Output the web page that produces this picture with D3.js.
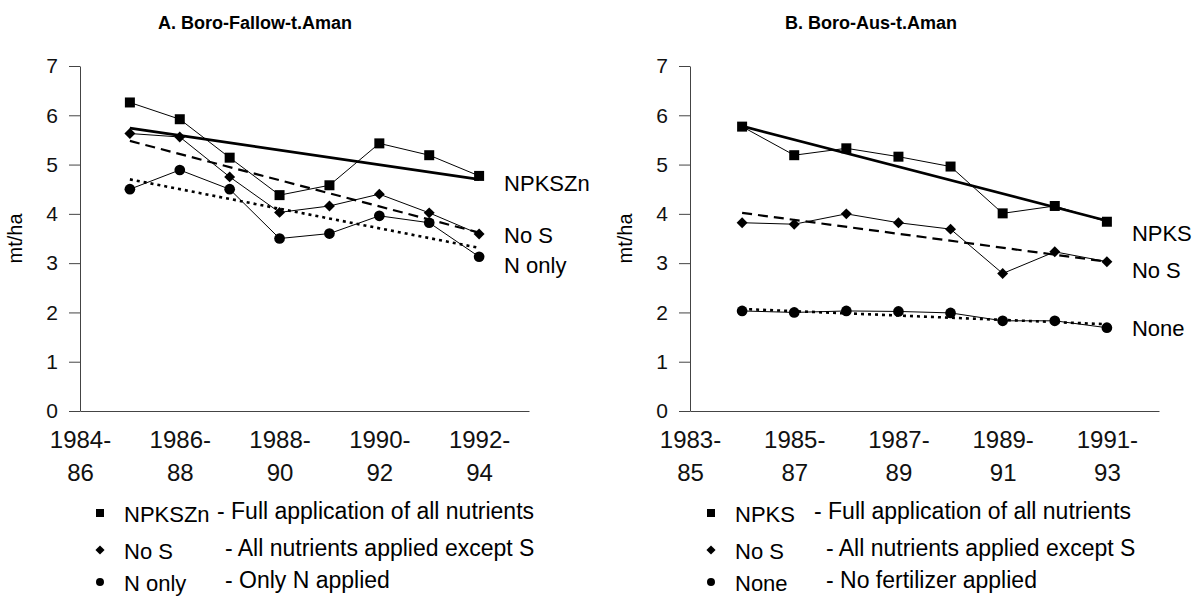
<!DOCTYPE html>
<html>
<head>
<meta charset="utf-8">
<script src="https://cdn.jsdelivr.net/npm/d3@7"></script>
<style>
  body { margin: 0; background: #fff; }
  svg { display: block; font-family: "Liberation Sans", Arial, sans-serif; }
</style>
</head>
<body>
<svg id="chart"></svg>
<script>
// ---- data: panel A (Boro-Fallow-t.Aman) ----
const yearsA = [1985, 1986, 1987, 1988, 1989, 1990, 1991, 1992];
const tickYearsA = [1984, 1986, 1988, 1990, 1992];
const tickLabelsA = [["1984-", "86"], ["1986-", "88"], ["1988-", "90"], ["1990-", "92"], ["1992-", "94"]];
const fullA  = [6.26, 5.92, 5.14, 4.38, 4.58, 5.43, 5.19, 4.77];
const noSA   = [5.63, 5.56, 4.75, 4.03, 4.16, 4.40, 4.02, 3.59];
const nOnlyA = [4.50, 4.89, 4.50, 3.50, 3.60, 3.96, 3.82, 3.13];
const trendFullA  = [5.74, 4.70];
const trendNoSA   = [5.48, 3.62];
const trendNOnlyA = [4.70, 3.31];
const seriesNamesA = ["NPKSZn", "No S", "N only"];
const legendDescA = ["- Full application of all nutrients", "- All nutrients applied except S", "- Only N applied"];

// ---- data: panel B (Boro-Aus-t.Aman) ----
const yearsB = [1984, 1985, 1986, 1987, 1988, 1989, 1990, 1991];
const tickYearsB = [1983, 1985, 1987, 1989, 1991];
const tickLabelsB = [["1983-", "85"], ["1985-", "87"], ["1987-", "89"], ["1989-", "91"], ["1991-", "93"]];
const fullB = [5.77, 5.19, 5.33, 5.16, 4.96, 4.01, 4.16, 3.84];
const noSB  = [3.82, 3.79, 4.00, 3.82, 3.69, 2.79, 3.23, 3.03];
const noneB = [2.03, 2.00, 2.03, 2.02, 1.99, 1.83, 1.83, 1.69];
const trendFullB = [5.78, 3.86];
const trendNoSB  = [4.02, 3.03];
const trendNoneB = [2.07, 1.76];
const seriesNamesB = ["NPKS", "No S", "None"];
const legendDescB = ["- Full application of all nutrients", "- All nutrients applied except S", "- No fertilizer applied"];

const yTicks = [0, 1, 2, 3, 4, 5, 6, 7];

const width = 1199, height = 596;
const svg = d3.select("#chart").attr("width", width).attr("height", height);

const y = d3.scaleLinear().domain([0, 7]).range([411, 66]);

const diamond = {
  draw(ctx, size) {
    const r = Math.sqrt(size / 2);
    ctx.moveTo(0, -r); ctx.lineTo(r, 0); ctx.lineTo(0, r); ctx.lineTo(-r, 0); ctx.closePath();
  }
};
const shapes = [d3.symbolSquare, diamond, d3.symbolCircle];
const sizes = [100, 60, 90];
const trendStyles = [
  { w: 2.6, dash: null },
  { w: 2.2, dash: "10,6" },
  { w: 2.6, dash: "3,4" }
];

function drawPanel(p) {
  const x = d3.scaleLinear().domain(p.domain).range(p.range);
  const g = svg.append("g");

  // title
  g.append("text")
    .attr("x", p.titleX).attr("y", 29)
    .attr("text-anchor", "middle")
    .attr("font-weight", "bold")
    .attr("font-size", 18)
    .text(p.title);

  // y axis
  const yAxis = g.append("g")
    .attr("transform", `translate(${p.range[0]},0)`)
    .call(d3.axisLeft(y).tickValues(yTicks).tickFormat(d3.format("d"))
      .tickSize(11).tickSizeOuter(0).tickPadding(11));
  yAxis.selectAll("text").attr("font-size", 21).attr("fill", "#111");
  yAxis.selectAll("line,path").attr("stroke", "#444");

  // x axis (line only, two-line labels)
  const xAxis = g.append("g")
    .attr("transform", `translate(0,${y(0)})`)
    .call(d3.axisBottom(x).tickValues(p.tickYears).tickSize(0).tickSizeOuter(0).tickFormat(""));
  xAxis.select("path").attr("stroke", "#444");
  xAxis.selectAll(".tick").each(function (d, i) {
    const t = d3.select(this).append("text")
      .attr("fill", "#111").attr("font-size", 24).attr("text-anchor", "middle");
    t.append("tspan").attr("x", 0).attr("y", 37).text(p.tickLabels[i][0]);
    t.append("tspan").attr("x", 0).attr("y", 70).text(p.tickLabels[i][1]);
  });

  // y label
  g.append("text")
    .attr("transform", `translate(${p.range[0] - 58},${y(3.5)}) rotate(-90)`)
    .attr("text-anchor", "middle")
    .attr("font-size", 20)
    .text("mt/ha");

  // trend lines
  const first = p.years[0], last = p.years[p.years.length - 1];
  p.trends.forEach((t, i) => {
    g.append("line")
      .attr("x1", x(first)).attr("y1", y(t[0]))
      .attr("x2", x(last)).attr("y2", y(t[1]))
      .attr("stroke", "#000")
      .attr("stroke-width", trendStyles[i].w)
      .attr("stroke-dasharray", trendStyles[i].dash);
  });

  // data lines and markers
  const line = d3.line().x((d, i) => x(p.years[i])).y(d => y(d));
  p.series.forEach((s, k) => {
    g.append("path").datum(s)
      .attr("d", line)
      .attr("fill", "none")
      .attr("stroke", "#000")
      .attr("stroke-width", 1);
    g.selectAll(null).data(s).join("path")
      .attr("transform", (d, i) => `translate(${x(p.years[i])},${y(d)})`)
      .attr("d", d3.symbol(shapes[k], sizes[k]))
      .attr("fill", "#000");
  });

  // end labels
  p.endLabels.forEach((lab, k) => {
    g.append("text")
      .attr("x", x(last) + 25).attr("y", p.endLabelY[k])
      .attr("dy", "0.35em")
      .attr("font-size", 22)
      .text(lab);
  });

  // legend
  const rowsY = [513, 550, 582];
  p.endLabels.forEach((lab, k) => {
    const ry = rowsY[k];
    g.append("path")
      .attr("transform", `translate(${p.legX},${ry})`)
      .attr("d", d3.symbol(shapes[k], [64, 42, 50][k]))
      .attr("fill", "#000");
    g.append("text")
      .attr("x", p.legX + 24).attr("y", ry + 9)
      .attr("font-size", 22)
      .text(lab);
    g.append("text")
      .attr("x", k === 0 ? p.descX0 : p.descX).attr("y", ry + 6)
      .attr("font-size", 23)
      .text(p.desc[k]);
  });
}

drawPanel({
  title: "A. Boro-Fallow-t.Aman", titleX: 255,
  domain: [1984, 1993], range: [80, 529],
  years: yearsA, tickYears: tickYearsA, tickLabels: tickLabelsA,
  series: [fullA, noSA, nOnlyA],
  trends: [trendFullA, trendNoSA, trendNOnlyA],
  endLabels: seriesNamesA, endLabelY: [183, 235, 265],
  legX: 100, descX0: 217, descX: 225, desc: legendDescA
});

drawPanel({
  title: "B. Boro-Aus-t.Aman", titleX: 871,
  domain: [1983, 1992], range: [690, 1159],
  years: yearsB, tickYears: tickYearsB, tickLabels: tickLabelsB,
  series: [fullB, noSB, noneB],
  trends: [trendFullB, trendNoSB, trendNoneB],
  endLabels: seriesNamesB, endLabelY: [233, 270, 328],
  legX: 711, descX0: 814, descX: 826, desc: legendDescB
});
</script>
</body>
</html>
